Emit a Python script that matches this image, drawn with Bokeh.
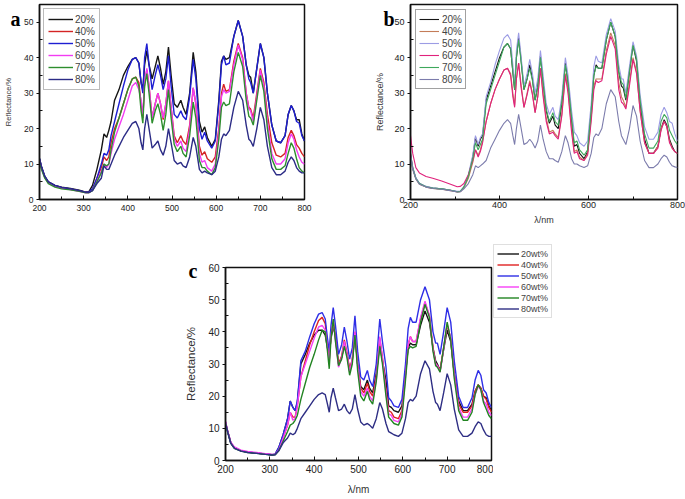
from bokeh.plotting import figure
from bokeh.layouts import column, row
from bokeh.models import Legend, LegendItem, FixedTicker, Spacer, Range1d
from bokeh.embed import file_html
from bokeh.resources import INLINE

# ---------------- data ----------------
wavelength = [200, 205, 212, 220, 235, 250, 270, 290, 305, 312,
              320, 330, 340, 346, 352, 357, 362, 370, 380, 390,
              400, 410, 418, 425, 430, 434, 438, 443, 448, 455,
              462, 468, 474, 480, 486, 492, 498, 505, 512, 520,
              525, 532, 540, 548, 554, 562, 568, 574, 580, 590,
              598, 606, 612, 617, 622, 630, 640, 650, 660, 668,
              674, 678, 684, 692, 700, 708, 716, 726, 736, 746,
              756, 763, 770, 776, 782, 788, 794, 800]

# panel a
a_20 = [11.5, 9.0, 6.5, 5.0, 4.0, 3.5, 3.1, 2.6, 2.1, 2.2,
        4.0, 8.5, 14.0, 18.5, 17.5, 19.5, 22.0, 28.0, 31.0, 35.0,
        37.5, 39.5, 40.0, 38.5, 33.0, 31.0, 38.0, 42.0, 38.0, 34.0,
        37.5, 40.5, 37.0, 32.5, 36.0, 43.0, 35.0, 27.0, 26.0, 28.0,
        26.0, 24.0, 30.0, 41.5, 36.0, 22.0, 19.0, 20.5, 17.5, 15.0,
        17.0, 28.0, 39.0, 40.5, 39.5, 40.0, 46.0, 50.5, 46.0, 38.0,
        35.0, 34.5, 30.0, 37.0, 44.0, 40.0, 30.0, 21.0, 16.5, 16.0,
        18.0, 24.0, 26.5, 25.0, 22.5, 22.5, 18.5, 16.5]
a_40 = [11.0, 8.8, 6.3, 4.8, 3.8, 3.3, 2.9, 2.4, 2.0, 2.0,
        2.8, 6.0, 9.0, 12.0, 11.0, 12.0, 16.0, 20.0, 23.0, 27.0,
        31.0, 34.0, 34.5, 33.0, 27.0, 23.0, 33.0, 36.5, 32.0, 23.0,
        27.0, 30.0, 27.0, 22.5, 27.0, 33.5, 26.0, 18.0, 16.0, 18.0,
        16.5, 15.5, 21.0, 31.5, 27.0, 15.0, 12.5, 13.5, 11.5, 10.5,
        12.0, 20.0, 30.0, 32.5, 30.5, 31.0, 39.0, 44.0, 40.0, 30.0,
        26.0, 25.5, 23.0, 30.0, 37.0, 33.0, 24.0, 16.0, 12.5, 12.0,
        13.0, 17.5, 19.5, 18.0, 15.5, 14.5, 13.0, 12.0]
a_50 = [11.5, 9.0, 6.5, 5.0, 4.0, 3.4, 3.0, 2.5, 2.0, 2.1,
        3.0, 6.0, 10.0, 13.0, 12.5, 14.0, 18.0, 22.0, 27.0, 32.0,
        36.5, 39.5, 40.0, 38.5, 33.0, 30.0, 40.0, 44.0, 38.0, 31.0,
        35.0, 38.0, 35.0, 31.0, 34.0, 40.5, 32.0, 24.0, 23.0, 25.0,
        23.5, 22.5, 29.0, 39.5, 34.0, 20.0, 17.0, 19.0, 16.5, 14.5,
        16.5, 27.0, 38.0, 40.5, 38.0, 38.5, 46.0, 50.5, 46.0, 38.0,
        34.0, 33.0, 30.0, 37.0, 44.0, 40.0, 30.0, 21.0, 16.5, 16.0,
        18.0, 24.0, 26.5, 25.0, 22.0, 21.5, 18.0, 16.5]
a_60 = [11.0, 8.5, 6.2, 4.7, 3.7, 3.2, 2.8, 2.3, 1.9, 1.9,
        2.6, 5.0, 8.0, 10.0, 9.0, 10.0, 13.0, 17.0, 20.5, 24.0,
        28.0, 32.0, 33.0, 31.0, 28.0, 24.0, 33.0, 37.0, 32.0, 23.0,
        27.0, 30.0, 27.0, 23.0, 27.0, 33.5, 26.0, 17.0, 15.0, 16.5,
        14.5, 13.5, 20.0, 31.5, 27.0, 13.0, 10.5, 11.0, 9.0, 8.0,
        10.0, 19.0, 29.0, 31.0, 30.0, 30.5, 38.0, 43.5, 39.5, 30.0,
        25.5, 25.0, 22.0, 29.0, 36.5, 32.0, 22.0, 13.0, 10.0, 10.0,
        11.5, 16.0, 18.5, 17.0, 14.0, 12.0, 10.5, 10.0]
a_70 = [10.5, 8.3, 6.0, 4.5, 3.5, 3.0, 2.7, 2.3, 1.9, 1.9,
        2.5, 5.0, 7.5, 10.0, 9.5, 10.0, 14.0, 19.0, 23.0, 27.0,
        31.0, 34.0, 34.5, 32.0, 25.0, 21.5, 32.0, 35.5, 30.0, 21.5,
        25.0, 27.0, 24.0, 19.5, 24.0, 31.0, 23.0, 15.5, 13.5, 15.0,
        13.0, 12.0, 18.0, 27.5, 23.0, 11.0, 9.0, 9.0, 8.0, 7.0,
        9.0, 17.0, 26.0, 27.5, 26.5, 27.0, 36.0, 41.5, 37.5, 28.0,
        23.5, 23.0, 21.0, 28.0, 35.0, 30.5, 20.0, 11.5, 8.5, 8.5,
        9.5, 13.0, 16.0, 14.5, 11.5, 9.0, 8.0, 7.5]
a_80 = [11.5, 9.0, 6.5, 5.0, 3.9, 3.4, 3.0, 2.5, 2.0, 2.0,
        2.5, 4.5, 6.0, 9.5, 8.5, 8.5, 10.0, 12.5, 15.0, 17.5,
        19.5, 21.5, 22.0, 20.0, 16.0, 14.0, 20.0, 24.0, 20.0, 14.5,
        15.5, 16.5, 14.0, 12.5, 15.0, 20.0, 16.0, 11.0, 10.0, 10.5,
        9.5, 9.0, 12.0, 17.5, 15.0, 8.5, 7.5, 8.0, 7.5, 7.0,
        8.0, 12.0, 17.0, 18.5, 18.0, 19.5, 26.0, 30.5, 28.0, 21.0,
        17.0, 16.5, 15.0, 20.0, 26.0, 22.5, 15.0, 9.0, 7.0, 7.0,
        8.0, 10.5, 12.0, 11.0, 9.0, 8.0, 7.5, 7.5]

# panel b
b_20 = [13.0, 9.0, 6.0, 4.5, 3.6, 3.2, 3.0, 2.6, 2.2, 2.3,
        3.5, 6.5, 12.0, 17.5, 15.0, 17.0, 18.0, 28.0, 32.0, 36.0,
        40.0, 43.0, 44.0, 42.5, 36.0, 31.0, 40.0, 45.5, 40.0, 31.0,
        34.0, 38.0, 34.0, 28.0, 32.0, 40.5, 33.0, 25.0, 21.5, 23.5,
        21.0, 20.0, 27.0, 38.5, 33.0, 22.0, 15.0, 15.5, 13.0, 11.5,
        13.5, 25.0, 35.0, 38.0, 37.0, 37.0, 45.0, 50.0, 46.0, 36.0,
        32.0, 31.5, 28.0, 36.0, 43.5, 39.0, 27.0, 17.0, 13.0, 13.0,
        15.0, 20.0, 22.5, 21.0, 17.0, 15.0, 13.5, 13.0]
b_40 = [12.0, 8.5, 5.8, 4.3, 3.5, 3.1, 2.9, 2.5, 2.1, 2.2,
        3.3, 6.0, 10.5, 14.0, 12.5, 14.0, 16.5, 22.0, 27.0, 31.0,
        34.0, 36.5, 37.0, 35.5, 30.0, 26.5, 34.0, 38.5, 33.0, 26.0,
        30.0, 33.5, 30.0, 24.5, 29.0, 37.0, 30.0, 23.0, 19.0, 19.5,
        18.5, 17.5, 24.0, 35.5, 31.0, 20.0, 13.5, 14.0, 12.0, 11.0,
        13.0, 23.0, 32.0, 34.0, 34.0, 34.0, 42.0, 47.0, 43.5, 33.0,
        29.0, 28.0, 26.0, 33.0, 40.0, 36.0, 25.0, 16.0, 13.0, 13.0,
        15.0, 20.0, 22.0, 20.5, 16.5, 14.5, 13.5, 13.0]
b_50 = [12.5, 9.0, 6.2, 4.6, 3.7, 3.3, 3.0, 2.6, 2.3, 2.4,
        3.6, 7.0, 12.5, 18.0, 15.5, 17.5, 18.5, 29.0, 33.0, 38.0,
        42.0, 45.5, 46.5, 45.0, 38.0, 32.0, 42.0, 47.0, 41.0, 32.0,
        35.5, 39.5, 35.5, 30.0, 34.0, 42.0, 35.0, 27.0, 24.0, 26.0,
        23.5, 22.5, 29.0, 40.0, 35.0, 25.0, 19.0, 18.0, 16.0, 15.0,
        16.5, 27.0, 37.5, 40.5, 39.0, 38.5, 46.5, 51.0, 47.5, 38.0,
        34.0, 34.0, 30.0, 37.5, 44.5, 40.5, 29.5, 20.5, 17.0, 17.0,
        19.0, 24.0, 26.0, 24.5, 22.0, 21.5, 18.5, 16.5]
b_60 = [18.0, 13.0, 9.0, 7.5, 6.5, 6.0, 5.2, 4.3, 3.6, 3.7,
        4.5, 7.0, 11.0, 14.0, 12.0, 13.5, 16.0, 22.0, 27.0, 31.0,
        34.0, 36.5, 37.0, 35.0, 29.0, 26.0, 34.0, 38.5, 32.0, 26.0,
        29.5, 33.0, 29.5, 24.5, 29.0, 37.0, 29.0, 22.0, 18.5, 19.0,
        18.0, 17.0, 23.5, 35.0, 30.0, 19.0, 13.0, 13.5, 11.5, 11.0,
        12.5, 22.0, 31.0, 33.5, 33.0, 33.5, 41.0, 46.0, 42.5, 31.0,
        27.5, 27.0, 25.5, 32.0, 39.5, 35.5, 25.0, 16.0, 13.0, 13.0,
        14.5, 19.5, 22.0, 20.5, 16.0, 14.5, 13.5, 13.0]
b_70 = [12.0, 8.8, 6.0, 4.5, 3.6, 3.2, 3.0, 2.6, 2.2, 2.3,
        3.5, 6.5, 11.5, 16.0, 14.0, 15.5, 17.0, 27.0, 31.0, 35.0,
        39.0, 43.0, 44.0, 42.5, 36.0, 31.0, 40.0, 45.0, 39.5, 31.0,
        34.0, 37.0, 33.5, 28.0, 32.0, 40.0, 33.0, 25.5, 22.0, 24.5,
        22.0, 21.0, 27.5, 38.0, 33.0, 23.0, 16.0, 16.5, 14.0, 12.5,
        14.0, 25.0, 35.0, 37.5, 37.0, 37.0, 45.0, 50.0, 46.0, 36.0,
        33.0, 32.5, 28.5, 36.0, 43.5, 39.5, 28.0, 18.5, 14.5, 14.5,
        16.5, 22.0, 24.0, 23.0, 19.5, 18.0, 16.5, 15.5]
b_80 = [12.0, 8.5, 5.8, 4.3, 3.5, 3.1, 2.9, 2.5, 2.1, 2.2,
        3.0, 4.5, 7.0, 9.5, 9.0, 9.5, 10.0, 11.0, 14.5, 17.0,
        19.5, 21.5, 22.5, 21.5, 18.0, 15.5, 20.0, 24.0, 20.5, 15.5,
        16.0, 17.0, 16.0, 14.5, 16.5, 21.0, 17.0, 13.5, 11.5, 11.5,
        11.0, 10.5, 13.5, 18.0, 16.0, 11.5, 10.0, 10.0, 9.5, 9.0,
        9.5, 13.0, 17.5, 18.5, 18.0, 20.0, 27.0, 31.0, 29.0, 22.0,
        18.0, 17.0, 15.5, 20.0, 26.5, 23.5, 16.5, 11.0, 9.0, 9.0,
        10.0, 11.5, 12.5, 12.0, 10.5, 9.5, 9.2, 9.0]

# panel c
c_20 = [12.0, 9.0, 5.5, 4.0, 3.0, 2.6, 2.3, 2.0, 1.8, 2.0,
        4.0, 8.0, 13.0, 18.5, 16.5, 15.5, 18.0, 30.0, 33.0, 36.5,
        39.0, 40.5, 40.5, 39.0, 35.0, 33.0, 38.0, 41.5, 39.0, 30.0,
        32.0, 36.0, 33.0, 28.0, 31.0, 39.0, 30.0, 23.0, 22.0, 25.0,
        22.5, 21.0, 27.0, 36.0, 31.0, 25.0, 17.0, 16.5, 15.5, 15.0,
        17.0, 27.0, 35.0, 36.5, 36.0, 36.0, 42.0, 46.5, 43.0, 35.0,
        31.0, 30.0, 28.0, 34.5, 40.5, 37.0, 27.0, 18.5, 15.5, 15.5,
        17.5, 21.5, 23.5, 22.5, 20.0, 19.5, 17.0, 15.5]
c_40 = [12.0, 9.0, 5.5, 4.0, 3.0, 2.6, 2.3, 2.0, 1.8, 1.9,
        3.5, 7.0, 11.0, 15.0, 13.5, 13.5, 17.0, 26.0, 31.0, 36.0,
        40.0, 43.5, 44.5, 42.5, 36.0, 31.0, 39.0, 43.0, 38.0, 30.0,
        32.5, 37.5, 33.5, 28.5, 31.5, 40.0, 30.0, 22.5, 21.0, 24.0,
        21.5, 20.0, 26.0, 38.0, 32.0, 22.0, 15.5, 15.0, 13.5, 13.0,
        15.5, 27.0, 36.0, 38.5, 37.0, 37.0, 44.0, 49.0, 45.0, 35.0,
        30.0, 29.5, 28.0, 35.0, 42.0, 38.0, 27.0, 17.5, 15.0, 15.0,
        17.0, 21.5, 23.5, 22.5, 20.0, 19.0, 16.5, 15.0]
c_50 = [12.0, 9.0, 5.5, 4.0, 3.0, 2.6, 2.3, 2.0, 1.8, 2.0,
        4.0, 8.0, 13.0, 18.5, 16.5, 15.5, 18.5, 31.0, 34.0, 38.5,
        42.5, 45.5, 46.0, 44.0, 38.0, 34.0, 42.0, 47.5, 42.0, 33.0,
        36.0, 41.5, 37.0, 31.5, 35.0, 45.0, 34.0, 26.0, 25.0, 28.0,
        25.0, 23.0, 30.0, 44.0, 37.0, 29.0, 19.5, 18.5, 17.0, 16.5,
        19.0, 30.0, 41.0, 44.5, 43.0, 43.0, 50.0, 54.0, 50.0, 40.0,
        36.5, 36.5, 33.0, 40.0, 47.5, 43.0, 31.0, 20.0, 16.5, 16.5,
        19.5, 25.0, 28.0, 26.5, 22.0, 21.0, 18.0, 16.5]
c_60 = [12.0, 9.2, 5.7, 4.2, 3.2, 2.8, 2.5, 2.1, 1.9, 1.9,
        3.2, 7.0, 11.0, 15.0, 12.5, 13.0, 17.0, 26.0, 30.0, 34.0,
        38.0, 41.5, 42.0, 40.5, 35.0, 31.0, 39.0, 43.5, 37.5, 29.0,
        32.0, 37.0, 33.0, 27.5, 31.5, 40.0, 29.5, 21.5, 20.0, 22.5,
        20.0, 18.5, 25.0, 38.5, 31.5, 21.0, 14.5, 14.0, 12.5, 12.0,
        14.5, 26.0, 36.0, 38.5, 37.0, 37.0, 44.5, 49.5, 45.0, 34.5,
        30.0, 29.5, 27.5, 34.5, 42.5, 38.0, 26.5, 16.5, 13.5, 13.5,
        16.0, 20.5, 23.0, 22.0, 18.5, 17.5, 15.0, 14.0]
c_70 = [11.5, 8.8, 5.3, 3.8, 2.9, 2.5, 2.2, 1.9, 1.7, 1.8,
        3.0, 6.0, 9.0, 11.0, 11.5, 12.5, 14.0, 19.0, 24.0, 29.0,
        33.0, 37.5, 40.5, 40.0, 34.0, 28.5, 38.0, 44.0, 37.0, 29.5,
        31.5, 35.5, 32.0, 26.5, 30.0, 39.0, 28.0, 20.0, 18.5, 21.5,
        19.0, 17.5, 24.5, 35.5, 30.0, 20.0, 13.5, 12.5, 11.5, 11.0,
        13.5, 25.0, 34.5, 35.5, 35.0, 35.5, 43.0, 48.5, 44.5, 34.0,
        29.5, 29.0, 27.5, 35.0, 43.0, 37.5, 25.5, 15.5, 12.5, 12.5,
        15.0, 20.5, 23.5, 22.0, 18.0, 16.0, 14.0, 13.0]
c_80 = [11.5, 8.8, 5.3, 3.8, 2.9, 2.5, 2.2, 1.9, 1.7, 1.8,
        3.0, 5.5, 7.0, 8.5, 8.0, 8.5, 10.0, 13.0, 15.0, 17.0,
        19.0, 20.5, 21.0, 20.5, 17.5, 15.0, 19.5, 22.5, 19.5, 15.5,
        16.0, 17.5, 15.5, 14.5, 16.0, 20.5, 16.0, 12.0, 11.0, 11.5,
        11.0, 10.0, 13.0, 18.0, 16.0, 11.5, 9.0, 8.5, 8.0, 7.5,
        8.5, 13.0, 18.0, 19.0, 18.5, 20.0, 27.0, 31.0, 28.5, 21.5,
        18.0, 17.5, 15.5, 21.0, 27.0, 23.5, 16.0, 9.5, 7.5, 7.5,
        8.5, 10.5, 12.0, 11.5, 9.5, 8.0, 7.5, 7.5]

labels_ab = ["20%", "40%", "50%", "60%", "70%", "80%"]
labels_c = ["20wt%", "40wt%", "50wt%", "60wt%", "70wt%", "80wt%"]

colors_a = ["#151515", "#d42424", "#1e1ed2", "#f23cf2", "#2e8e2e", "#2c2c86"]
colors_b = ["#151515", "#c47c58", "#9c9ce4", "#e0227c", "#3ea85c", "#7c7cac"]
colors_c = ["#151515", "#e02222", "#2e2ee6", "#f640f6", "#228422", "#2e2e84"]

SANS = "Liberation Sans"
SERIF = "Liberation Serif"


def style_axes(p, xt, xminor, yt, yminor, tick_fs, x_standoff, y_standoff,
               ylabel, ylabel_fs, ylabel_standoff, xlabel=None, xlabel_fs="10px",
               xlabel_standoff=5):
    p.grid.visible = False
    p.outline_line_color = "#111111"
    p.outline_line_width = 1.5
    p.xaxis.ticker = FixedTicker(ticks=xt, minor_ticks=xminor)
    p.yaxis.ticker = FixedTicker(ticks=yt, minor_ticks=yminor)
    for ax in (p.xaxis[0], p.yaxis[0]):
        ax.axis_line_color = "#111111"
        ax.axis_line_width = 1.5
        ax.major_tick_line_color = "#111111"
        ax.minor_tick_line_color = "#111111"
        ax.major_label_text_font = SANS
        ax.major_label_text_font_size = tick_fs
        ax.major_label_text_color = "#222222"
        ax.axis_label_text_font = SANS
        ax.axis_label_text_font_style = "normal"
        ax.axis_label_text_color = "#333333"
    p.xaxis.major_tick_in = 4
    p.xaxis.major_tick_out = 0
    p.xaxis.minor_tick_in = 3
    p.xaxis.minor_tick_out = 0
    p.xaxis.major_label_standoff = x_standoff
    p.yaxis.major_tick_in = 0
    p.yaxis.major_tick_out = 3
    p.yaxis.minor_tick_in = 3
    p.yaxis.minor_tick_out = 0
    p.yaxis.major_label_standoff = y_standoff
    p.yaxis.axis_label = ylabel
    p.yaxis.axis_label_text_font_size = ylabel_fs
    p.yaxis.axis_label_standoff = ylabel_standoff
    if xlabel:
        p.xaxis.axis_label = xlabel
        p.xaxis.axis_label_text_font_size = xlabel_fs
        p.xaxis.axis_label_standoff = xlabel_standoff


def panel_letter(p, letter, offset, standoff):
    p.title.text = letter
    p.title.align = "left"
    p.title.vertical_align = "bottom"
    p.title.offset = offset
    p.title.standoff = standoff
    p.title.text_font = SERIF
    p.title.text_font_style = "bold"
    p.title.text_font_size = "20px"
    p.title.text_color = "#000000"


def add_lines(p, series, colors, width, visible=True):
    rends = []
    for ys, c in zip(series, colors):
        r = p.line(wavelength, ys, line_color=c, line_width=width, visible=visible)
        rends.append(r)
    return rends


# ---------------- panel a ----------------
pa = figure(width=335, height=230, x_range=Range1d(200, 800), y_range=Range1d(0, 55),
            output_backend="svg", toolbar_location=None,
            min_border_left=39, min_border_right=31, min_border_top=4, min_border_bottom=31)
style_axes(pa, list(range(200, 801, 100)), list(range(250, 800, 100)),
           list(range(0, 51, 10)), list(range(5, 55, 10)),
           "8.5px", 5, 3, "Reflectance/%", "7.5px", 8)
ra = add_lines(pa, [a_20, a_40, a_50, a_60, a_70, a_80], colors_a, 1.4)
leg_a = Legend(items=[LegendItem(label=l, renderers=[r]) for l, r in zip(labels_ab, ra)],
               location="top_left", margin=4, padding=4, spacing=0,
               glyph_width=25, glyph_height=12, label_height=12, label_standoff=2,
               label_text_font=SANS, label_text_font_size="10px",
               border_line_color="#777777", border_line_width=1)
pa.add_layout(leg_a)
panel_letter(pa, "a", -29, -50)

# ---------------- panel b ----------------
pb = figure(width=350, height=230, x_range=Range1d(200, 800), y_range=Range1d(0, 55),
            output_backend="svg", toolbar_location=None,
            min_border_left=75, min_border_right=8, min_border_top=4, min_border_bottom=31)
style_axes(pb, [200, 400, 600, 800], [300, 500, 700],
           list(range(0, 51, 10)), list(range(5, 55, 10)),
           "9px", 2, 3, "Reflectance/%", "9px", 6, "λ/nm", "9px", 4)
rb = add_lines(pb, [b_20, b_40, b_50, b_60, b_70, b_80], colors_b, 1.1)
leg_b = Legend(items=[LegendItem(label=l, renderers=[r]) for l, r in zip(labels_ab, rb)],
               location="top_left", margin=5, padding=3, spacing=0,
               glyph_width=20, glyph_height=12, label_height=12, label_standoff=3,
               label_text_font=SANS, label_text_font_size="10px",
               border_line_color="#444444", border_line_width=1)
pb.add_layout(leg_b)
panel_letter(pb, "b", -27, -50)

# ---------------- panel c ----------------
pc = figure(width=323, height=267, x_range=Range1d(200, 800), y_range=Range1d(0, 60),
            output_backend="svg", toolbar_location=None,
            min_border_left=55, min_border_right=2, min_border_top=37, min_border_bottom=35)
style_axes(pc, list(range(200, 801, 100)), list(range(250, 800, 100)),
           list(range(0, 61, 10)), list(range(5, 60, 10)),
           "10px", 4, 3, "Reflectance/%", "11.5px", 8, "λ/nm", "10px", 8)
rc = add_lines(pc, [c_20, c_40, c_50, c_60, c_70, c_80], colors_c, 1.4)
panel_letter(pc, "c", -37, -28)

# legend of panel c sits outside its frame, in a small companion figure
pl = figure(width=70, height=267, x_range=Range1d(0, 1), y_range=Range1d(0, 1),
            x_axis_type=None, y_axis_type=None, output_backend="svg",
            toolbar_location=None, min_border=0, outline_line_color=None)
pl.grid.visible = False
rl = add_lines(pl, [c_20, c_40, c_50, c_60, c_70, c_80], colors_c, 1.4, visible=False)
leg_c = Legend(items=[LegendItem(label=l, renderers=[r]) for l, r in zip(labels_c, rl)],
               location=(0, 179), padding=3, spacing=0, margin=0,
               glyph_width=22, glyph_height=11, label_height=11, label_standoff=2,
               label_text_font=SANS, label_text_font_size="9px",
               border_line_color="#c0c0c0", border_line_width=1,
               inactive_fill_alpha=0.0)
pl.add_layout(leg_c)

layout = column(row(pa, pb), row(Spacer(width=170, height=267), pc, column(pl)))

open("out.html", "w").write(file_html(layout, INLINE))
